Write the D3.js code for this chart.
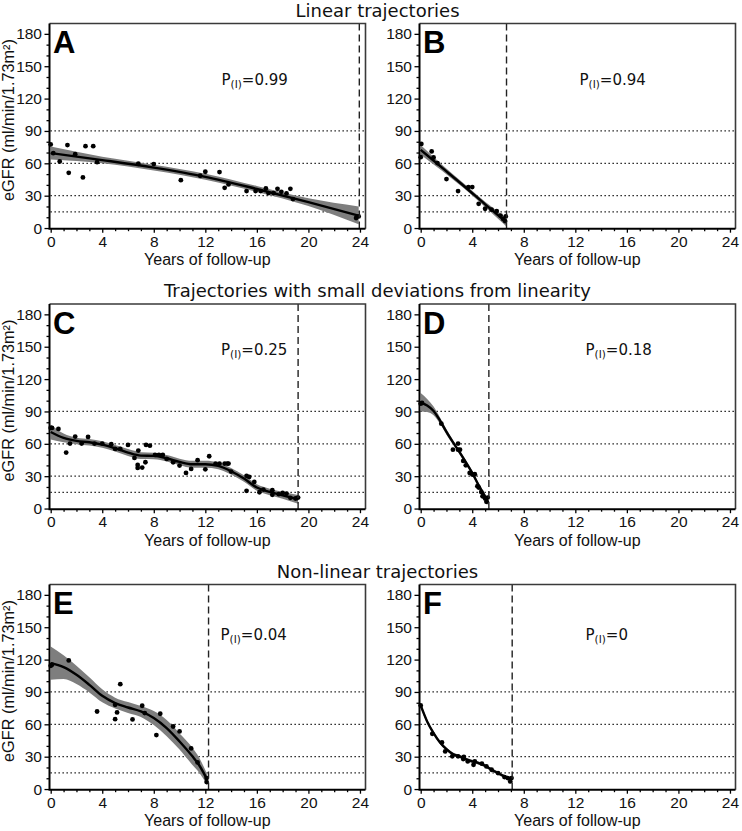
<!DOCTYPE html>
<html><head><meta charset="utf-8">
<script src="https://cdn.jsdelivr.net/npm/d3@7"></script>
<style>body{margin:0;background:#fff}svg{display:block}</style>
</head><body>
<svg id="c" width="742" height="831"></svg>
<script>
// ---------- data ----------
const panelLetters = ["A","B","C","D","E","F"];
const pLabels = ["0.99","0.94","0.25","0.18","0.04","0"];
const rowTitles = ["Linear trajectories","Trajectories with small deviations from linearity","Non-linear trajectories"];
const endYears = [23.95, 6.66, 19.2, 5.29, 12.25, 7.1];
const xTicks = [0,4,8,12,16,20,24];
const yTicks = [0,30,60,90,120,150,180];
const refLines = [15,30,60,90];
const xLabel = "Years of follow-up";
const yLabel = "eGFR (ml/min/1.73m²)";

const ptsA_x = [0,0.2,0.7,1.3,1.4,1.9,2.5,2.7,3.3,3.6,6.8,8.0,10.1,11.6,12.0,13.1,13.5,13.8,15.2,15.9,16.3,16.7,16.9,17.3,17.6,17.9,18.3,18.6,18.8,23.7,23.9];
const ptsA_y = [77.5,69.4,61.7,76.9,51.2,68.5,46.9,75.9,75.9,61.1,59.6,59.3,44.4,48.5,52.2,51.9,37.3,40.4,34.3,34.3,34.3,36.7,32.4,32.4,36.4,33.6,32.1,36.4,26.9,9.3,10.8];
const fitA_x = [0,4,8,12,16,20,23.9];
const fitA_y = [69.5,63,56,47.5,36.2,24,11.5];
const fitA_lo = [63.5,60,53.3,44.7,33.4,20.4,3.5];
const fitA_hi = [75.5,66,58.7,50.3,39,27.6,20];

const ptsB_x = [0,0.05,0.85,1.0,1.3,2.0,2.9,3.7,4.0,4.5,5.0,5.5,5.9,6.2,6.4,6.55,6.6];
const ptsB_y = [65.7,78,71,65.4,60.2,45.4,34.3,38,38,22.5,17.9,17,15.7,11.4,8.3,6.5,10.8];
const fitB_x = [0,1.7,3.35,5,6.66];
const fitB_y = [72.5,55.5,39,22,5.3];
const fitB_lo = [68,52.7,36.8,19.6,1.5];
const fitB_hi = [77,58.3,41.2,24.4,9.5];

const ptsC_x = [0,0.1,0.6,1.2,1.5,1.9,2.4,2.9,3.4,4.0,4.7,5.0,5.4,6.0,6.5,6.8,6.75,6.75,7.1,7.35,7.4,7.7,8.1,8.4,8.7,9.0,9.5,10.0,10.5,10.9,11.4,12.0,12.3,12.8,13.1,13.5,13.7,13.8,14.0,15.2,15.2,15.4,15.8,16.2,16.5,17.2,17.2,17.7,18.0,18.3,18.6,19.0,19.2];
const ptsC_y = [74.7,74.7,73.8,51.9,60.2,66.7,60.2,66.4,60.2,60.2,59.6,55.3,55.3,59,46.9,53.7,40.4,37.7,38,42.9,59,58.3,49.7,49.7,49.7,46,42.9,39.8,33,36.7,44.8,36.4,48.5,41.7,41.7,41.7,41.7,41.7,34.3,30.3,16.4,29.3,24.7,15.1,17.6,17,12.7,13.3,14.5,13.9,9.9,9.3,10.2];
const fitC_x = [0,1,2,3,4,5,6,7,8,9,10,11,12,13,14,15,16,17,18,19.2];
const fitC_y = [71,65.5,62.7,61.4,59.3,55.9,51.9,49.1,48.8,46.6,43.2,41,41,39.5,34.6,27.8,19.5,15.4,12.3,8.5];
const fitC_lo = [64,61.5,59.7,58.4,56.3,52.9,48.7,45.9,45.8,43.6,40.2,37.8,37.8,36.5,31.6,24.8,16.5,12.4,9.1,4.5];
const fitC_hi = [78,69.5,65.7,64.4,62.3,58.9,55.1,52.3,51.8,49.6,46.2,44.2,44.2,42.5,37.6,30.8,22.5,18.4,15.5,12.5];

const ptsD_x = [0,0.1,1.6,2.5,2.9,2.9,3.05,3.3,3.5,3.8,4.0,4.2,4.4,4.5,4.7,4.8,5.0,5.1,5.2];
const ptsD_y = [97.2,97.9,78.7,54.6,60.2,54.6,54.6,44.1,40.1,33,31.5,31.8,20.7,19.5,15.4,11.4,9.3,6.2,10.2];
const fitD_x = [0,0.5,1,1.5,2,2.5,3,3.5,4,4.5,5,5.25];
const fitD_y = [98.5,95.5,90.5,81.5,71,61.5,52.5,43,33,21.5,11,5.5];
const fitD_lo = [90,89.5,86.5,78.5,68.5,59.5,50.5,41,31,19.5,8.5,2.5];
const fitD_hi = [107,101.5,94.5,84.5,73.5,63.5,54.5,45,35,23.5,13.5,8.5];

const ptsE_x = [0,0.1,1.4,3.6,5.0,5.0,5.15,5.4,6.35,7.1,7.3,8.2,8.5,9.5,10.0,10.9,11.4,12.1,12.1];
const ptsE_y = [114.2,115.2,119.2,71.9,78.1,64.8,71,97.2,64.5,77.2,70.4,50,69.8,58,53.4,37.7,24.7,10.2,6.5];
const fitE_x = [0,1,2,3,4,5,6,7,8,9,10,11,11.5,12.15];
const fitE_y = [116.7,113,105.9,96.6,86.4,79.7,75.6,71.9,65.8,56.5,44.1,30.3,22.5,8.6];
const fitE_lo = [101.2,102,97.4,89.6,80.4,74.7,70.6,66.9,59.3,49,36.6,22.3,15.5,3.6];
const fitE_hi = [132.2,124,114.4,103.6,92.4,84.7,80.6,76.9,72.3,64,51.6,38.3,29.5,13.6];

const ptsF_x = [0,0.9,1.65,1.9,2.45,2.9,3.3,3.35,3.65,4.1,4.2,4.75,5.1,5.5,6.0,6.5,6.75,6.95,7.05];
const ptsF_y = [77.5,51.2,43.2,34.9,30.3,30.3,27.8,29.9,25.6,22.5,25.6,23.5,21,17.9,14.8,11.1,10.2,7.1,10.2];
const fitF_x = [0,0.5,1,1.5,2,2.5,3,3.5,4,4.5,5,5.5,6,6.5,7.05];
const fitF_y = [77.5,62.7,51.9,43.2,37,32.4,30.3,27.8,25.6,24.1,21.6,17.9,14.8,11.7,9.3];
const fitF_lo = [75,61,50.4,41.7,35.5,30.9,28.8,26.3,24.1,22.6,20.1,16.4,13.3,10.2,7.3];
const fitF_hi = [80,64.4,53.4,44.7,38.5,33.9,31.8,29.3,27.1,25.6,23.1,19.4,16.3,13.2,11.3];

const pointsX = [ptsA_x, ptsB_x, ptsC_x, ptsD_x, ptsE_x, ptsF_x];
const pointsY = [ptsA_y, ptsB_y, ptsC_y, ptsD_y, ptsE_y, ptsF_y];
const fitsX = [fitA_x, fitB_x, fitC_x, fitD_x, fitE_x, fitF_x];
const fitsY = [fitA_y, fitB_y, fitC_y, fitD_y, fitE_y, fitF_y];
const fitsLo = [fitA_lo, fitB_lo, fitC_lo, fitD_lo, fitE_lo, fitF_lo];
const fitsHi = [fitA_hi, fitB_hi, fitC_hi, fitD_hi, fitE_hi, fitF_hi];

// ---------- layout ----------
const colLeft = [49.5, 419.5];
const rowTop = [23.5, 304, 584.5];
const plotW = 316, plotH = 205.2;
const xDomain = [-0.093, 24.43];
const yDomain = [-0.6, 189.6];
// P-label offsets (px from frame left, baseline px from frame top)
const pPos = [[172,61],[160,61],[171.5,51],[166,51],[171,55],[166,55]];

const svg = d3.select("#c");
const SANS = "'Liberation Sans', Arial, sans-serif";
const DJ = "'DejaVu Sans', sans-serif";

// row titles
rowTitles.forEach((t, r) => {
  svg.append("text").attr("x", 377.5).attr("y", rowTop[r] - 6.8)
    .attr("text-anchor", "middle").attr("font-family", DJ).attr("font-size", 18)
    .attr("fill", "#111").text(t);
});

panelLetters.forEach((letter, i) => {
  const col = i % 2, row = Math.floor(i / 2);
  const L = colLeft[col], T = rowTop[row];
  const x = d3.scaleLinear().domain(xDomain).range([L, L + plotW]);
  const y = d3.scaleLinear().domain(yDomain).range([T + plotH, T]);
  const g = svg.append("g");

  // dotted reference lines
  g.selectAll(".ref").data(refLines).join("line")
    .attr("x1", L + 1).attr("x2", L + plotW)
    .attr("y1", d => y(d)).attr("y2", d => y(d))
    .attr("stroke", "#000").attr("stroke-width", 1.2).attr("stroke-dasharray", "1.3,2.7");

  const fx = fitsX[i], fy = fitsY[i], flo = fitsLo[i], fhi = fitsHi[i];
  const idx = d3.range(fx.length);
  // confidence band
  g.append("path").datum(idx)
    .attr("d", d3.area().x(k => x(fx[k])).y0(k => y(flo[k])).y1(k => y(fhi[k])).curve(d3.curveMonotoneX))
    .attr("fill", "#7e7e7e").attr("stroke", "none");
  // fitted line
  g.append("path").datum(idx)
    .attr("d", d3.line().x(k => x(fx[k])).y(k => y(fy[k])).curve(d3.curveMonotoneX))
    .attr("fill", "none").attr("stroke", "#000").attr("stroke-width", 2.4);
  // observations
  const px = pointsX[i], py = pointsY[i];
  g.selectAll(".pt").data(d3.range(px.length)).join("circle")
    .attr("cx", k => x(px[k])).attr("cy", k => y(py[k])).attr("r", 2.4).attr("fill", "#000");

  // end of follow-up
  g.append("line").attr("x1", x(endYears[i])).attr("x2", x(endYears[i]))
    .attr("y1", T).attr("y2", T + plotH)
    .attr("stroke", "#222").attr("stroke-width", 1.4).attr("stroke-dasharray", "7,4");

  // frame top/right
  g.append("path").attr("d", `M${L},${T}H${L + plotW}V${T + plotH}`)
    .attr("fill", "none").attr("stroke", "#3a3a3a").attr("stroke-width", 1.6);

  // axes
  const yMinor = d3.range(0, 181, 10).filter(v => v % 30 !== 0);
  const xMinor = d3.range(0, 25, 1).filter(v => v % 4 !== 0);
  const ay = g.append("g").attr("transform", `translate(${L},0)`)
    .call(d3.axisLeft(y).tickValues(yTicks).tickSize(5).tickPadding(2.5));
  const ayMinor = g.append("g").attr("transform", `translate(${L},0)`)
    .call(d3.axisLeft(y).tickValues(yMinor).tickSize(3).tickFormat(""));
  const ax = g.append("g").attr("transform", `translate(0,${T + plotH})`)
    .call(d3.axisBottom(x).tickValues(xTicks).tickSize(4).tickPadding(3));
  const axMinor = g.append("g").attr("transform", `translate(0,${T + plotH})`)
    .call(d3.axisBottom(x).tickValues(xMinor).tickSize(2.5).tickFormat(""));
  [ay, ayMinor, ax, axMinor].forEach(a => {
    a.select(".domain").remove();
    a.selectAll(".tick line").attr("stroke", "#000").attr("stroke-width", 1.3);
    a.selectAll(".tick text").attr("font-family", SANS).attr("font-size", 15.5).attr("fill", "#111");
  });
  // solid axis lines
  g.append("path").attr("d", `M${L},${T}V${T + plotH}H${L + plotW}`)
    .attr("fill", "none").attr("stroke", "#000").attr("stroke-width", 2);

  // axis titles
  g.append("text").attr("x", (L + 1.2 + x(24)) / 2 + 2).attr("y", T + plotH + 36.5)
    .attr("text-anchor", "middle").attr("font-family", SANS).attr("font-size", 16)
    .attr("fill", "#111").text(xLabel);
  if (col === 0) {
    g.append("text").attr("transform", `translate(13.5,${T + 96.5}) rotate(-90)`)
      .attr("text-anchor", "middle").attr("font-family", SANS).attr("font-size", 16.3)
      .attr("fill", "#111").text(yLabel);
  }

  // panel letter
  g.append("text").attr("x", L + 3.5).attr("y", T + 29.8)
    .attr("font-family", SANS).attr("font-weight", "bold").attr("font-size", 31)
    .attr("fill", "#000").text(letter);

  // P(I) label
  const pt = g.append("text").attr("x", L + pPos[i][0]).attr("y", T + pPos[i][1])
    .attr("font-family", DJ).attr("font-size", 15).attr("fill", "#111");
  pt.append("tspan").text("P");
  pt.append("tspan").attr("font-size", 10.5).attr("dy", 3).text("(I)");
  pt.append("tspan").attr("dy", -3).text("=" + pLabels[i]);
});
</script></body></html>
